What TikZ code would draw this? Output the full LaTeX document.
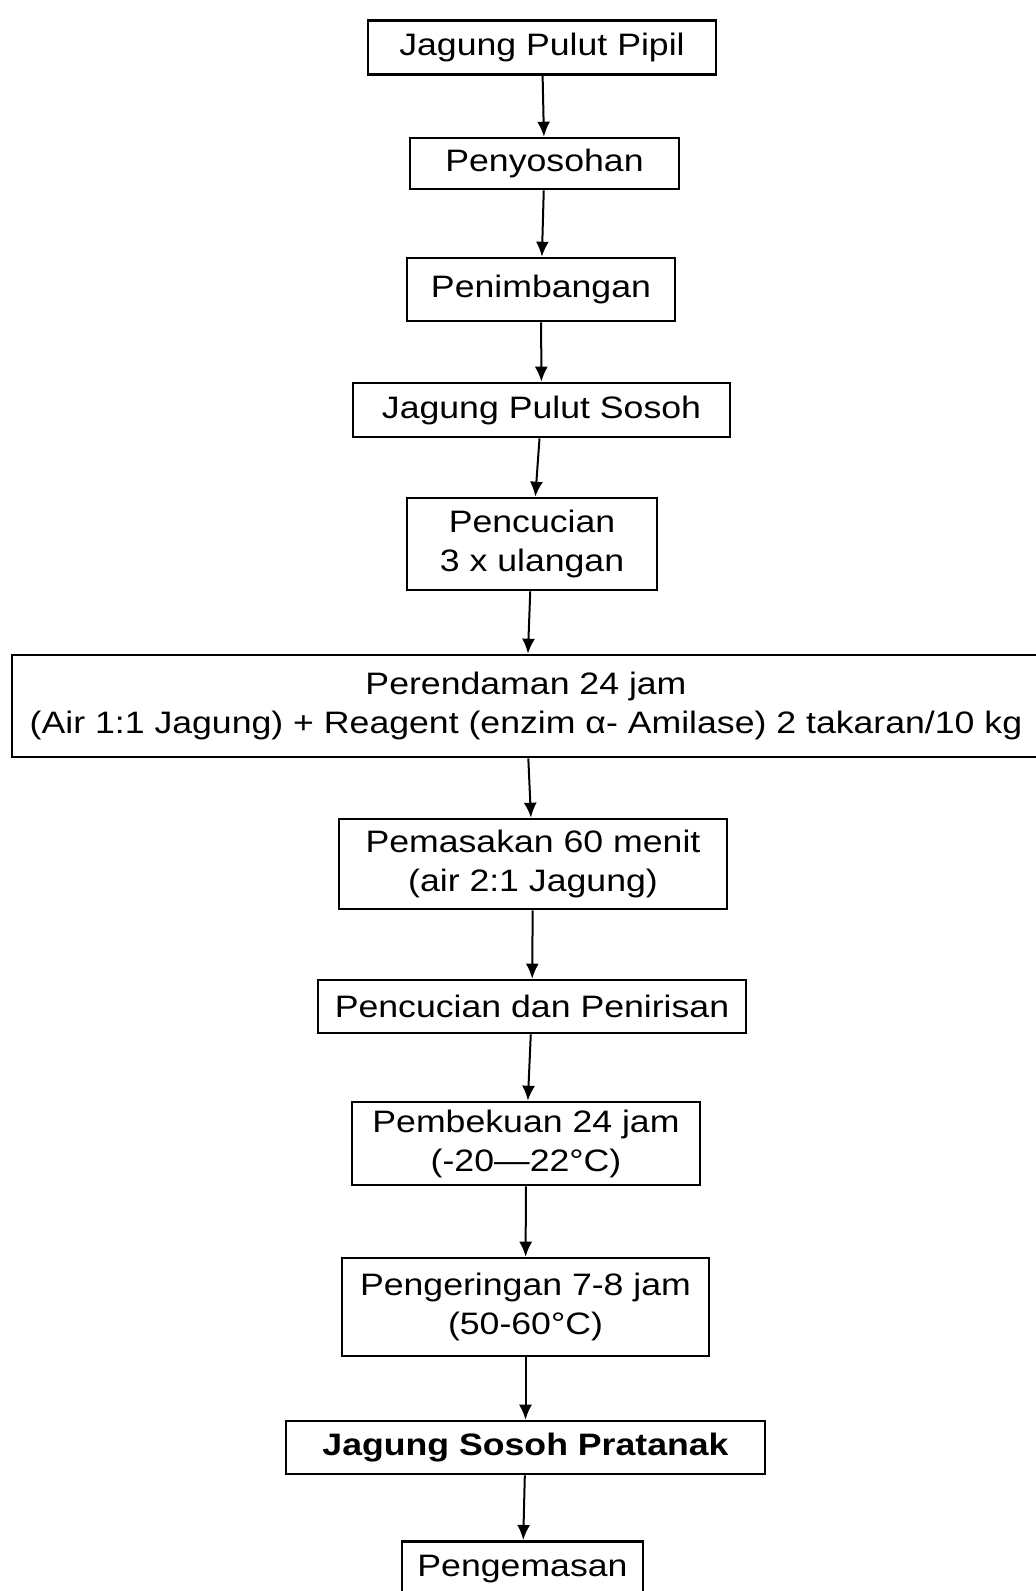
\documentclass[tikz,border=0pt]{standalone}
\usepackage{fontspec}
\setmainfont{Liberation Sans}[FakeStretch=1.15]
\usetikzlibrary{arrows.meta}
\tikzset{
	proses/.style={draw,line width=2.6pt,align=center,inner sep=2pt,font=\fontsize{31}{39}\selectfont},
	alir/.style={->,line width=2pt},
}
\begin{document}
\begin{tikzpicture}[x=1pt,y=-1pt,>={Latex[length=15pt,width=13pt]}]
		\useasboundingbox (0,0) rectangle (1036,1591);
		% langkah proses
		\node[proses,minimum width=348pt,minimum height=54pt] (pipil) at (542,47.5) {Jagung Pulut Pipil};
		\node[proses,minimum width=269pt,minimum height=51pt] (sosoh) at (544.5,163.5) {Penyosohan};
		\node[proses,minimum width=268pt,minimum height=63pt] (timbang) at (541,289.5) {Penimbangan};
		\node[proses,minimum width=377pt,minimum height=54pt] (pulut) at (541.5,410) {Jagung Pulut Sosoh};
		\node[proses,minimum width=250pt,minimum height=92pt] (cuci) at (532,544) {Pencucian\\3 x ulangan};
		\node[proses,minimum width=1028pt,minimum height=102pt] (rendam) at (526,706) {Perendaman 24 jam\\(Air 1:1 Jagung) + Reagent (enzim α- Amilase) 2 takaran/10 kg};
		\node[proses,minimum width=388pt,minimum height=90pt] (masak) at (533,864) {Pemasakan 60 menit\\(air 2:1 Jagung)};
		\node[proses,minimum width=428pt,minimum height=53pt] (tiris) at (532,1006.5) {Pencucian dan Penirisan};
		\node[proses,minimum width=348pt,minimum height=83pt] (beku) at (526,1143.5) {Pembekuan 24 jam\\(-20—22°C)};
		\node[proses,minimum width=367pt,minimum height=98pt] (kering) at (525.5,1307) {Pengeringan 7-8 jam\\(50-60°C)};
		\node[proses,minimum width=479pt,minimum height=53pt,font=\fontsize{31}{39}\selectfont\bfseries] (pratanak) at (525.5,1447.5) {Jagung Sosoh Pratanak};
		\node[proses,minimum width=241pt,minimum height=56pt,anchor=north] (kemas) at (522.5,1540) {Pengemasan};
		% panah
		\draw[alir] (pipil) -- (sosoh);
		\draw[alir] (sosoh) -- (timbang);
		\draw[alir] (timbang) -- (pulut);
		\draw[alir] (pulut) -- (cuci);
		\draw[alir] (cuci) -- (rendam);
		\draw[alir] (rendam) -- (masak);
		\draw[alir] (masak) -- (tiris);
		\draw[alir] (tiris) -- (beku);
		\draw[alir] (beku) -- (kering);
		\draw[alir] (kering) -- (pratanak);
		\draw[alir] (pratanak) -- (kemas);
\end{tikzpicture}
\end{document}
